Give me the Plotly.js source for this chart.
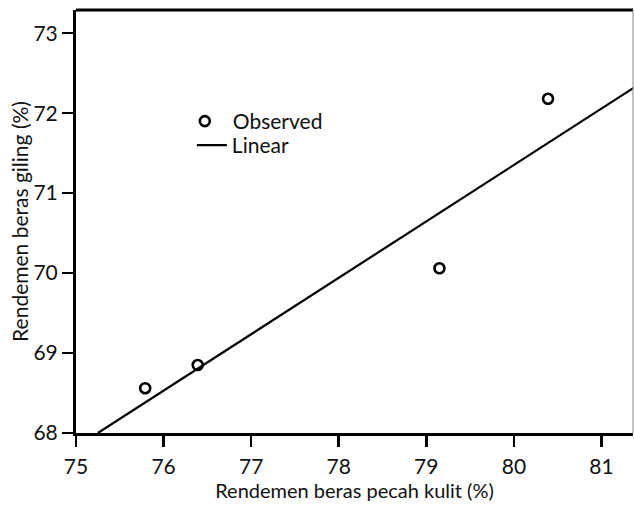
<!DOCTYPE html>
<html>
<head>
<meta charset="utf-8">
<script src="https://cdn.plot.ly/plotly-3.0.1.min.js"></script>
<style>html,body{margin:0;padding:0;background:#fff;}#chart{width:634px;height:523px;}</style>
</head>
<body>
<div id="chart"></div>
<script>
var obsX = [75.79, 76.39, 79.15, 80.39];
var obsY = [68.56, 68.85, 70.06, 72.18];
// Linear fit line endpoints
var fitX = [75.25, 81.4];
var fitY = [68.0, 72.34];
var xTicks = [75, 76, 77, 78, 79, 80, 81];
var yTicks = [68, 69, 70, 71, 72, 73];
var xTitle = 'Rendemen beras pecah kulit (%)';
var yTitle = 'Rendemen beras giling (%)';

var fontFam = 'Lato, "Open Sans", sans-serif';

var traces = [
  {
    x: obsX, y: obsY, mode: 'markers', type: 'scatter', name: 'Observed', legend: 'legend',
    marker: {symbol: 'circle-open', size: 10, color: '#000', line: {width: 2.6, color: '#000'}},
    cliponaxis: false
  },
  {
    x: fitX, y: fitY, mode: 'lines', type: 'scatter', name: 'Linear', legend: 'legend2',
    line: {color: '#000', width: 2.2}
  }
];

var legendBase = {
  xanchor: 'left', yanchor: 'top', bgcolor: 'rgba(0,0,0,0)',
  font: {family: fontFam, size: 21, color: '#111'}, tracegroupgap: 0
};

var layout = {
  width: 634, height: 523,
  margin: {l: 76, r: 1, t: 10, b: 90},
  paper_bgcolor: '#fff', plot_bgcolor: '#fff',
  font: {family: fontFam, size: 21, color: '#111'},
  showlegend: true,
  legend: Object.assign({x: 0.181, y: 0.785, itemwidth: 46}, legendBase),
  legend2: Object.assign({x: 0.208, y: 0.728, itemwidth: 30}, legendBase),
  xaxis: {
    range: [75, 81.36], tickvals: xTicks, ticktext: xTicks.map(String),
    showgrid: false, zeroline: false, showline: true, linecolor: '#000', linewidth: 2.5,
    ticks: 'outside', ticklen: 11, tickwidth: 2.5, tickcolor: '#000', ticklabelstandoff: 2,
    tickfont: {family: fontFam, size: 21, color: '#111'},
    title: {text: xTitle, font: {family: fontFam, size: 20, color: '#111'}, standoff: 0}
  },
  yaxis: {
    range: [68, 73.29], tickvals: yTicks, ticktext: yTicks.map(String),
    showgrid: false, zeroline: false, showline: true, linecolor: '#000', linewidth: 3,
    ticks: 'outside', ticklen: 11, tickwidth: 2.5, tickcolor: '#000',
    tickfont: {family: fontFam, size: 21, color: '#111'},
    title: {text: yTitle, font: {family: fontFam, size: 21, color: '#111'}, standoff: 0}
  },
  shapes: [
    {type: 'line', xref: 'paper', yref: 'paper', x0: 0, x1: 1, y0: 1, y1: 1, line: {color: '#000', width: 3}},
    {type: 'line', xref: 'paper', yref: 'paper', x0: 1, x1: 1, y0: 0, y1: 1, line: {color: '#888', width: 1}}
  ]
};

Plotly.newPlot('chart', traces, layout, {displayModeBar: false, staticPlot: true});
</script>
</body>
</html>
